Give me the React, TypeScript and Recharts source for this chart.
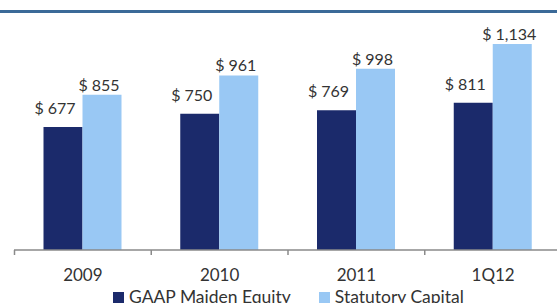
import React from 'react';
import { BarChart, Bar, XAxis, YAxis, Legend, LabelList } from 'recharts';

const categories = ['2009', '2010', '2011', '1Q12'];
const gaapEquity = [677, 750, 769, 811];
const statutoryCapital = [855, 961, 998, 1134];

const DARK = '#1b2a6b';
const LIGHT = '#99c8f4';
const FONT = 'Lato, "Open Sans", sans-serif';
const AXIS = '#8a8a8a';
const TEXT = '#333';

const data = categories.map((name, i) => ({
  name,
  gaap: gaapEquity[i],
  stat: statutoryCapital[i],
}));

const fmt = (v: any) => `$ ${Number(v).toLocaleString('en-US')}`;

const AxisTick = (props: any) => {
  const { x, y, payload, index } = props;
  const half = payload && payload.offset ? payload.offset : 68;
  const isLast = index === categories.length - 1;
  return (
    <g>
      <line x1={x - half} y1={y} x2={x - half} y2={y + 5} stroke={AXIS} strokeWidth={1.5} />
      {isLast && <line x1={x + half} y1={y} x2={x + half} y2={y + 5} stroke={AXIS} strokeWidth={1.5} />}
      <text x={x} y={y + 31} textAnchor="middle" fontFamily={FONT} fontSize={17} fill={TEXT}>
        {payload.value}
      </text>
    </g>
  );
};

const makeValueLabel = (gap: number, shift: number) => (props: any) => {
  const { x, y, width, value } = props;
  return (
    <text x={x + width / 2 + shift} y={y - gap} textAnchor="middle" fontFamily={FONT} fontSize={16} fill={TEXT}>
      {fmt(value)}
    </text>
  );
};

const LegendContent = () => (
  <div style={{ display: 'flex', fontFamily: FONT, fontSize: 17.5, color: TEXT, paddingLeft: 113, lineHeight: '20px', whiteSpace: 'nowrap' }}>
    <span style={{ display: 'inline-flex', alignItems: 'center' }}>
      <span style={{ width: 11, height: 11, background: DARK, display: 'inline-block', marginRight: 5 }} />
      GAAP Maiden Equity
    </span>
    <span style={{ display: 'inline-flex', alignItems: 'center', marginLeft: 28 }}>
      <span style={{ width: 11, height: 11, background: LIGHT, display: 'inline-block', marginRight: 5 }} />
      Statutory Capital
    </span>
  </div>
);

export default function App() {
  return (
    <div style={{ position: 'absolute', left: 0, top: 0, width: 557, height: 303, background: '#fff', overflow: 'hidden' }}>
      <div style={{ position: 'absolute', left: 0, top: 10, width: 557, height: 3, background: '#3b6a98' }} />
      <BarChart
        width={557}
        height={303}
        data={data}
        margin={{ top: 32, right: 0, left: 14, bottom: 0 }}
        barGap={0}
        barSize={39}
      >
        <XAxis
          dataKey="name"
          interval={0}
          height={53}
          tickSize={0}
          tickMargin={0}
          tickLine={false}
          padding={{ left: 0.5, right: -4.5 }}
          axisLine={{ stroke: AXIS, strokeWidth: 1.5 }}
          tick={<AxisTick />}
        />
        <YAxis hide domain={[0, 1200]} />
        <Legend verticalAlign="middle" layout="horizontal" wrapperStyle={{ top: 287, left: 0, width: 557 }} content={<LegendContent />} />
        <Bar dataKey="gaap" fill={DARK} isAnimationActive={false}>
          <LabelList dataKey="gaap" content={makeValueLabel(13, -8)} />
        </Bar>
        <Bar dataKey="stat" fill={LIGHT} isAnimationActive={false}>
          <LabelList dataKey="stat" content={makeValueLabel(4, -3)} />
        </Bar>
      </BarChart>
    </div>
  );
}
